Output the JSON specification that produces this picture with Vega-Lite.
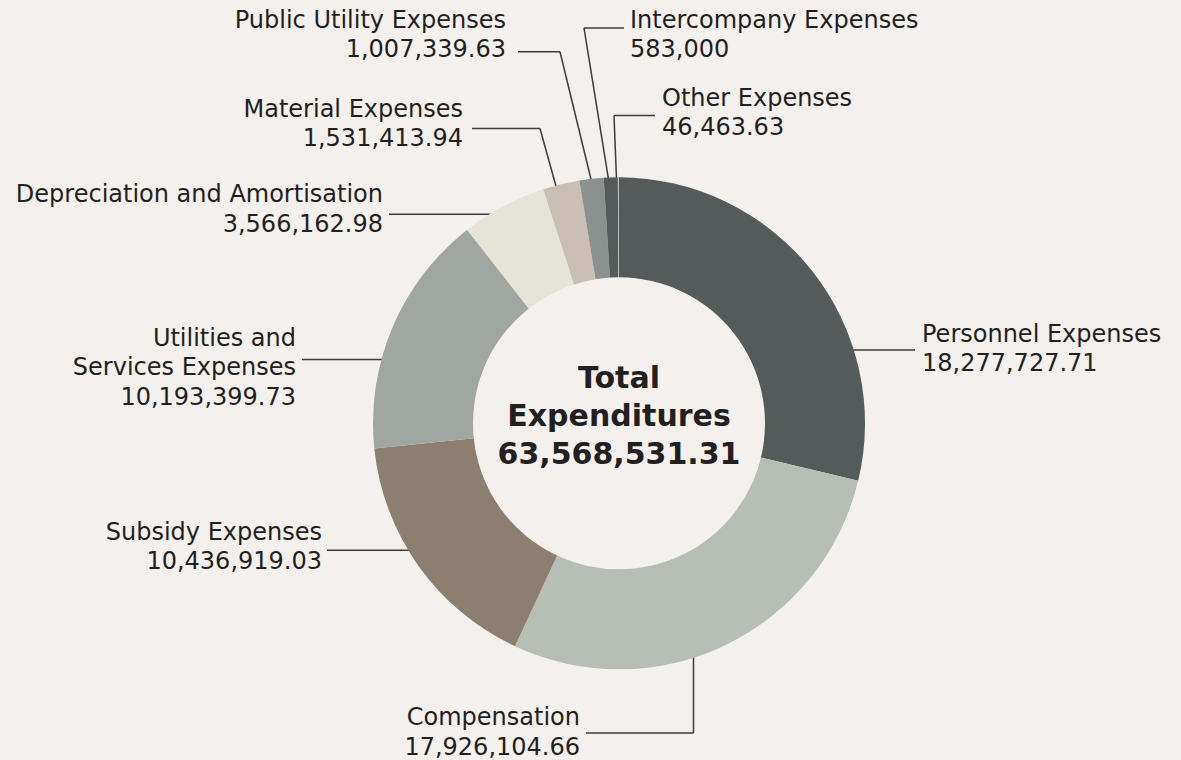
{
  "$schema": "https://vega.github.io/schema/vega-lite/v6.json",
  "width": 1181,
  "height": 760,
  "autosize": {"type": "fit", "contains": "padding"},
  "padding": 0,
  "background": "#f4f0ed",
  "config": {"view": {"stroke": null}, "font": "DejaVu Sans"},
  "data": {
    "values": [
      {"name": "Personnel Expenses", "value": 18277727.71, "order": 1, "ax": 232, "ay": -73.5, "bx": 296, "by": -73.5, "cx": 296, "cy": -73.5, "lx": 303, "ly": -82, "side": "R"},
      {"name": "Compensation", "value": 17926104.66, "order": 2, "ax": 74.5, "ay": 230, "bx": 74.5, "by": 311, "cx": -33, "cy": 311, "lx": -39, "ly": 303, "side": "L"},
      {"name": "Subsidy Expenses", "value": 10436919.03, "order": 3, "ax": -208, "ay": 127.5, "bx": -292, "by": 127.5, "cx": -292, "cy": 127.5, "lx": -297, "ly": 117, "side": "L"},
      {"name": "Utilities and Services Expenses", "value": 10193399.73, "order": 4, "ax": -235, "ay": -64, "bx": -317, "by": -64, "cx": -317, "cy": -64, "lx": -323, "ly": -78, "side": "L"},
      {"name": "Depreciation and Amortisation", "value": 3566162.98, "order": 5, "ax": -126, "ay": -210, "bx": -230, "by": -210, "cx": -230, "cy": -210, "lx": -236, "ly": -222, "side": "L"},
      {"name": "Material Expenses", "value": 1531413.94, "order": 6, "ax": -63, "ay": -238, "bx": -79, "by": -296, "cx": -147, "cy": -296, "lx": -156, "ly": -308, "side": "L"},
      {"name": "Public Utility Expenses", "value": 1007339.63, "order": 7, "ax": -28, "ay": -245, "bx": -59, "by": -373, "cx": -101, "cy": -373, "lx": -113, "ly": -397, "side": "L"},
      {"name": "Intercompany Expenses", "value": 583000, "order": 8, "ax": -10.5, "ay": -245, "bx": -35, "by": -397, "cx": 5, "cy": -397, "lx": 11, "ly": -397, "side": "R"},
      {"name": "Other Expenses", "value": 46463.63, "order": 9, "ax": -2.5, "ay": -245, "bx": -5, "by": -309, "cx": 36, "cy": -309, "lx": 43, "ly": -319, "side": "R"}
    ]
  },
  "transform": [
    {"calculate": "datum.value % 1 === 0 ? format(datum.value, ',') : format(datum.value, ',.2f')", "as": "vtxt"},
    {"calculate": "datum.name === 'Utilities and Services Expenses' ? ['Utilities and', 'Services Expenses', datum.vtxt] : [datum.name, datum.vtxt]", "as": "lines"}
  ],
  "layer": [
    {
      "mark": {"type": "rule", "stroke": "#3d3d3d", "strokeWidth": 1.5},
      "encoding": {
        "x": {"field": "ax", "type": "quantitative", "scale": {"domain": [-619, 562], "nice": false, "zero": false}, "axis": null},
        "y": {"field": "ay", "type": "quantitative", "scale": {"domain": [-425, 335], "reverse": true, "nice": false, "zero": false}, "axis": null},
        "x2": {"field": "bx"},
        "y2": {"field": "by"}
      }
    },
    {
      "mark": {"type": "rule", "stroke": "#3d3d3d", "strokeWidth": 1.5},
      "encoding": {
        "x": {"field": "bx", "type": "quantitative", "scale": {"domain": [-619, 562], "nice": false, "zero": false}, "axis": null},
        "y": {"field": "by", "type": "quantitative", "scale": {"domain": [-425, 335], "reverse": true, "nice": false, "zero": false}, "axis": null},
        "x2": {"field": "cx"},
        "y2": {"field": "cy"}
      }
    },
    {
      "mark": {"type": "arc", "outerRadius": 246, "innerRadius": 146},
      "encoding": {
        "theta": {"field": "value", "type": "quantitative", "stack": true},
        "order": {"field": "order", "type": "quantitative", "sort": "ascending"},
        "color": {
          "field": "name", "type": "nominal", "legend": null,
          "scale": {
            "domain": ["Personnel Expenses", "Compensation", "Subsidy Expenses", "Utilities and Services Expenses", "Depreciation and Amortisation", "Material Expenses", "Public Utility Expenses", "Intercompany Expenses", "Other Expenses"],
            "range": ["#545b5a", "#b7beb6", "#8c7f6f", "#a0a6a1", "#e6e4d9", "#cbbfb4", "#8b918f", "#545b5a", "#b7beb6"]
          }
        },
        "x": {"datum": 0, "type": "quantitative", "scale": {"domain": [-619, 562], "nice": false, "zero": false}, "axis": null},
        "y": {"datum": 0, "type": "quantitative", "scale": {"domain": [-425, 335], "reverse": true, "nice": false, "zero": false}, "axis": null}
      }
    },
    {
      "transform": [{"filter": "datum.side === 'L'"}],
      "mark": {"type": "text", "align": "right", "baseline": "alphabetic", "fontSize": 24, "lineHeight": 29.5, "color": "#231f20"},
      "encoding": {
        "x": {"field": "lx", "type": "quantitative", "scale": {"domain": [-619, 562], "nice": false, "zero": false}, "axis": null},
        "y": {"field": "ly", "type": "quantitative", "scale": {"domain": [-425, 335], "reverse": true, "nice": false, "zero": false}, "axis": null},
        "text": {"field": "lines"}
      }
    },
    {
      "transform": [{"filter": "datum.side === 'R'"}],
      "mark": {"type": "text", "align": "left", "baseline": "alphabetic", "fontSize": 24, "lineHeight": 29.5, "color": "#231f20"},
      "encoding": {
        "x": {"field": "lx", "type": "quantitative", "scale": {"domain": [-619, 562], "nice": false, "zero": false}, "axis": null},
        "y": {"field": "ly", "type": "quantitative", "scale": {"domain": [-425, 335], "reverse": true, "nice": false, "zero": false}, "axis": null},
        "text": {"field": "lines"}
      }
    },
    {
      "transform": [
        {"aggregate": [{"op": "sum", "field": "value", "as": "total"}]},
        {"calculate": "['Total', 'Expenditures', format(datum.total, ',.2f')]", "as": "ctext"}
      ],
      "mark": {"type": "text", "align": "center", "baseline": "alphabetic", "fontSize": 30, "fontWeight": "bold", "lineHeight": 38, "color": "#231f20"},
      "encoding": {
        "x": {"datum": 0, "type": "quantitative", "scale": {"domain": [-619, 562], "nice": false, "zero": false}, "axis": null},
        "y": {"datum": -35, "type": "quantitative", "scale": {"domain": [-425, 335], "reverse": true, "nice": false, "zero": false}, "axis": null},
        "text": {"field": "ctext"}
      }
    }
  ]
}
